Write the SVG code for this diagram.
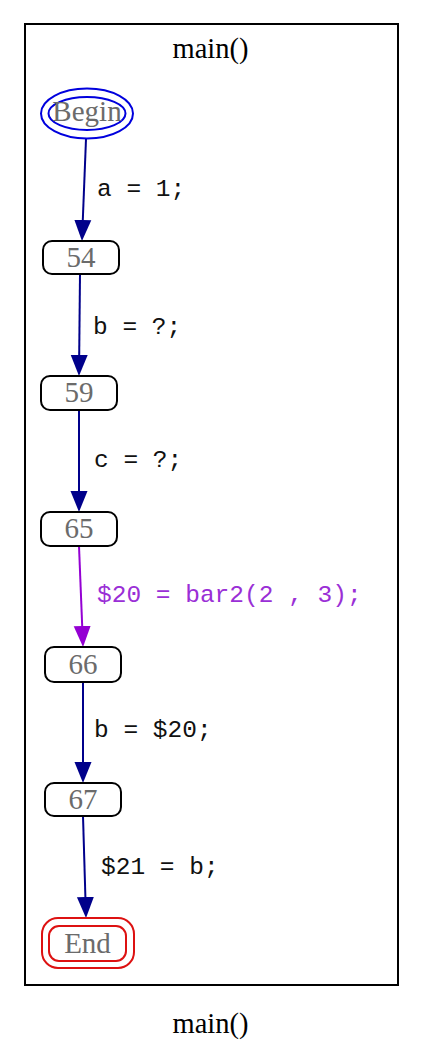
<svg xmlns="http://www.w3.org/2000/svg" width="423" height="1058" viewBox="0 0 423 1058">
<style>
.title{font-family:"Liberation Serif","Times New Roman",serif;font-size:28.5px;fill:#000;text-anchor:middle}
.nl{font-family:"Liberation Serif","Times New Roman",serif;font-size:29px;fill:#6b6b6b;text-anchor:middle}
.box{fill:#fff;stroke:#000;stroke-width:2}
.el{font-family:"Liberation Mono","Courier New",monospace;font-size:24.5px;fill:#111}
.elp{font-family:"Liberation Mono","Courier New",monospace;font-size:24.5px;fill:#9a2fd6}
.eb{stroke:#00008b;stroke-width:2;fill:none;marker-end:url(#ab)}
.ep{stroke:#9400d3;stroke-width:2;fill:none;marker-end:url(#ap)}
</style>
<defs>
<marker id="ab" viewBox="0 -9 21 18" markerWidth="21" markerHeight="18" refX="0" refY="0" orient="auto" markerUnits="userSpaceOnUse"><path d="M0,-8.5 L21,0 L0,8.5 z" fill="#00008b"/></marker>
<marker id="ap" viewBox="0 -9 21 18" markerWidth="21" markerHeight="18" refX="0" refY="0" orient="auto" markerUnits="userSpaceOnUse"><path d="M0,-8.5 L21,0 L0,8.5 z" fill="#9400d3"/></marker>
</defs>
<rect width="423" height="1058" fill="#fff"/>
<g id="cluster_main">
<rect x="25" y="24" width="373" height="961" fill="none" stroke="#000" stroke-width="2"/>
<text class="title" x="210.5" y="58">main()</text>
</g>
<text class="title" x="210.5" y="1033">main()</text>
<g id="connectors">
<line class="eb" x1="86" y1="139" x2="82.8" y2="220"/>
<text class="el" x="97" y="196">a = 1;</text>
<line class="eb" x1="80" y1="274" x2="79.2" y2="355"/>
<text class="el" x="93" y="334">b = ?;</text>
<line class="eb" x1="79" y1="410" x2="79" y2="491"/>
<text class="el" x="94" y="467">c = ?;</text>
<line class="ep" x1="79" y1="546" x2="82.2" y2="626"/>
<text class="elp" x="97" y="602">$20 = bar2(2 , 3);</text>
<line class="eb" x1="83" y1="682" x2="83" y2="762"/>
<text class="el" x="94" y="737">b = $20;</text>
<line class="eb" x1="83" y1="816" x2="85.4" y2="897"/>
<text class="el" x="101" y="874">$21 = b;</text>
</g>
<g id="node_begin">
<ellipse cx="87" cy="113.5" rx="46" ry="25" fill="none" stroke="#0000dd" stroke-width="2"/>
<ellipse cx="87" cy="113.5" rx="38.5" ry="16.5" fill="none" stroke="#0000dd" stroke-width="2"/>
<text class="nl" x="87" y="121">Begin</text>
</g>
<g id="node_54">
<rect class="box" x="43" y="241" width="76" height="33" rx="9"/>
<text class="nl" x="81" y="266.5">54</text>
</g>
<g id="node_59">
<rect class="box" x="41" y="376" width="76" height="34" rx="9"/>
<text class="nl" x="79" y="402">59</text>
</g>
<g id="node_65">
<rect class="box" x="41" y="512" width="76" height="34" rx="9"/>
<text class="nl" x="79" y="538">65</text>
</g>
<g id="node_66">
<rect class="box" x="45" y="647" width="76" height="35" rx="9"/>
<text class="nl" x="83" y="673.5">66</text>
</g>
<g id="node_67">
<rect class="box" x="45" y="783" width="76" height="33" rx="9"/>
<text class="nl" x="83" y="808.5">67</text>
</g>
<g id="node_end">
<rect x="42" y="918" width="92" height="50" rx="16" fill="none" stroke="#dd1111" stroke-width="2"/>
<rect x="49" y="926" width="77" height="35" rx="10" fill="none" stroke="#dd1111" stroke-width="2"/>
<text class="nl" x="87.5" y="952.5">End</text>
</g>
</svg>
